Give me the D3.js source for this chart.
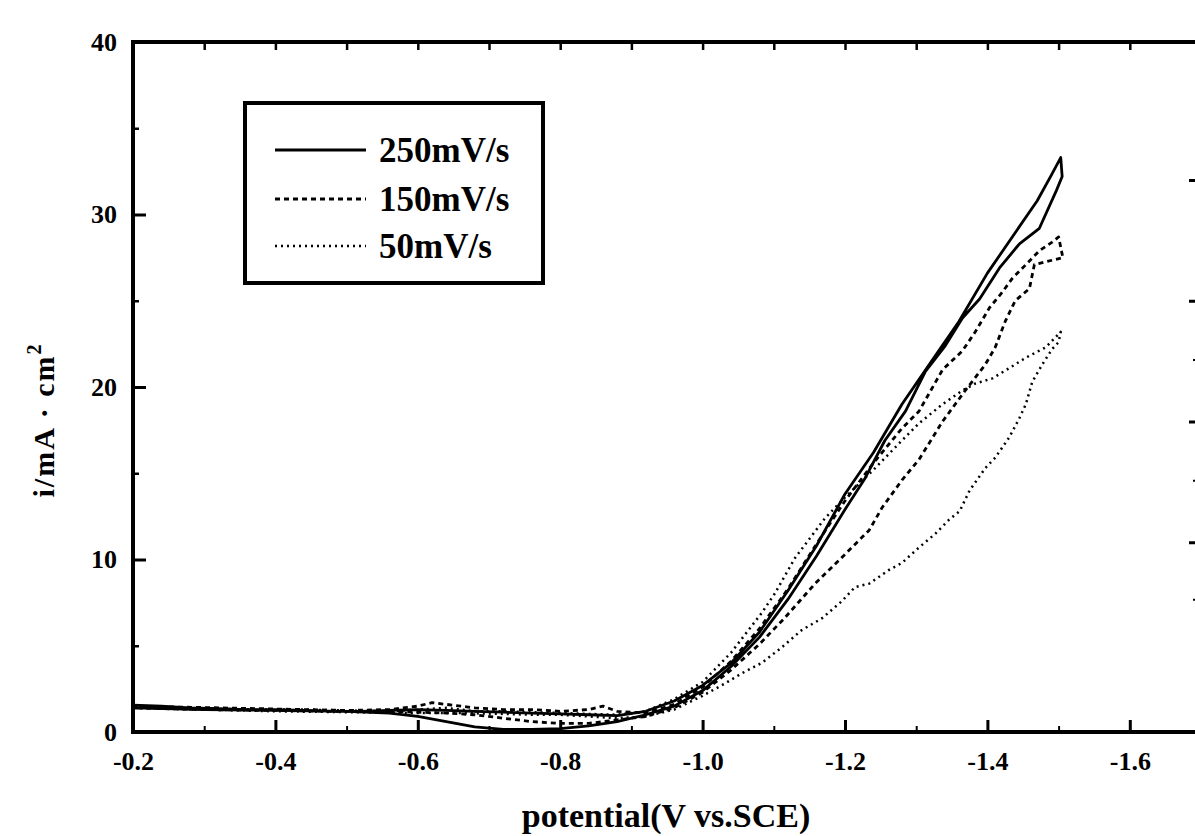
<!DOCTYPE html>
<html>
<head>
<meta charset="utf-8">
<script src="https://cdn.jsdelivr.net/npm/d3@7"></script>
<style>
  html, body { margin: 0; padding: 0; background: #fff; overflow: hidden; }
  svg { display: block; }
  text { font-family: "Liberation Serif", "Times New Roman", serif; font-weight: bold; fill: #000; }
</style>
</head>
<body>
<svg id="chart" width="1195" height="836"></svg>
<script>
// ---------- data (potential V vs SCE, current mA/cm2) ----------
const seriesNames = ["250mV/s", "150mV/s", "50mV/s"];

const scan250Forward = [[-0.20,1.55],[-0.24,1.5],[-0.28,1.4],[-0.32,1.35],[-0.36,1.3],[-0.40,1.3],[-0.44,1.25],[-0.48,1.2],[-0.52,1.2],[-0.56,1.25],[-0.60,1.3],[-0.64,1.25],[-0.68,1.2],[-0.72,1.15],[-0.76,1.1],[-0.80,1.05],[-0.84,1.0],[-0.88,0.95],[-0.92,1.2],[-0.96,1.8],[-1.00,2.7],[-1.04,4.0],[-1.08,5.8],[-1.12,8.2],[-1.16,10.8],[-1.20,13.8],[-1.24,16.2],[-1.28,19.0],[-1.32,21.4],[-1.36,23.8],[-1.40,26.6],[-1.44,29.0],[-1.47,30.8],[-1.49,32.3],[-1.503,33.3]];
const scan250Reverse = [[-1.505,32.2],[-1.497,31.4],[-1.473,29.2],[-1.445,28.3],[-1.417,26.9],[-1.389,25.1],[-1.365,24.0],[-1.341,22.4],[-1.313,20.9],[-1.285,18.6],[-1.256,16.9],[-1.228,14.7],[-1.20,12.9],[-1.16,10.2],[-1.12,7.7],[-1.08,5.5],[-1.04,3.8],[-1.00,2.4],[-0.96,1.5],[-0.92,1.0],[-0.88,0.6],[-0.84,0.35],[-0.80,0.2],[-0.76,0.15],[-0.72,0.15],[-0.68,0.3],[-0.64,0.6],[-0.60,0.9],[-0.56,1.1],[-0.50,1.2],[-0.40,1.25],[-0.30,1.3],[-0.20,1.4]];

const scan150Forward = [[-0.20,1.5],[-0.26,1.45],[-0.32,1.4],[-0.38,1.35],[-0.44,1.3],[-0.50,1.25],[-0.56,1.3],[-0.60,1.5],[-0.62,1.7],[-0.64,1.6],[-0.68,1.4],[-0.72,1.3],[-0.76,1.3],[-0.80,1.2],[-0.84,1.3],[-0.86,1.5],[-0.88,1.2],[-0.92,1.1],[-0.96,1.6],[-1.00,2.6],[-1.04,4.1],[-1.08,6.0],[-1.12,8.3],[-1.16,10.9],[-1.20,13.4],[-1.24,15.6],[-1.28,17.6],[-1.304,18.6],[-1.337,21.0],[-1.365,22.1],[-1.383,23.2],[-1.403,24.6],[-1.421,25.5],[-1.435,26.3],[-1.459,27.3],[-1.473,27.9],[-1.491,28.4],[-1.50,28.7]];
const scan150Reverse = [[-1.506,27.5],[-1.466,27.1],[-1.459,25.7],[-1.439,25.0],[-1.425,23.8],[-1.411,22.3],[-1.397,21.3],[-1.369,19.8],[-1.337,18.0],[-1.304,15.8],[-1.280,14.6],[-1.252,13.0],[-1.234,11.7],[-1.200,10.3],[-1.158,8.6],[-1.115,6.6],[-1.08,5.1],[-1.04,3.6],[-1.00,2.3],[-0.96,1.4],[-0.92,0.9],[-0.88,0.7],[-0.84,0.5],[-0.80,0.5],[-0.76,0.6],[-0.72,0.8],[-0.68,1.0],[-0.64,1.1],[-0.56,1.2],[-0.48,1.2],[-0.40,1.25],[-0.30,1.3],[-0.20,1.4]];

const scan50Forward = [[-0.20,1.5],[-0.26,1.4],[-0.32,1.35],[-0.38,1.3],[-0.44,1.3],[-0.50,1.25],[-0.56,1.2],[-0.60,1.3],[-0.64,1.4],[-0.68,1.2],[-0.72,1.2],[-0.76,1.15],[-0.80,1.1],[-0.84,1.05],[-0.88,1.0],[-0.92,1.2],[-0.96,1.9],[-1.00,2.9],[-1.04,4.6],[-1.083,6.9],[-1.101,8.0],[-1.130,10.1],[-1.172,12.4],[-1.20,13.6],[-1.24,15.2],[-1.28,16.9],[-1.304,17.9],[-1.337,19.0],[-1.365,19.8],[-1.383,20.2],[-1.407,20.5],[-1.431,21.1],[-1.454,21.7],[-1.482,22.3],[-1.503,23.2]];
const scan50Reverse = [[-1.50,22.6],[-1.491,22.2],[-1.477,21.3],[-1.463,20.3],[-1.454,19.0],[-1.445,18.2],[-1.431,17.1],[-1.411,15.9],[-1.397,15.3],[-1.375,14.0],[-1.361,12.8],[-1.346,12.3],[-1.327,11.5],[-1.304,10.7],[-1.280,9.8],[-1.262,9.4],[-1.234,8.6],[-1.214,8.4],[-1.196,7.6],[-1.168,6.6],[-1.139,5.9],[-1.111,4.9],[-1.083,4.0],[-1.055,3.4],[-1.031,2.8],[-1.00,2.1],[-0.96,1.3],[-0.92,0.9],[-0.88,0.8],[-0.84,0.9],[-0.80,1.0],[-0.76,1.0],[-0.72,1.05],[-0.66,1.1],[-0.60,1.1],[-0.50,1.15],[-0.40,1.2],[-0.30,1.3],[-0.20,1.4]];

const xTickValues = [-0.2, -0.4, -0.6, -0.8, -1.0, -1.2, -1.4, -1.6];
const xTickLabels = ["-0.2", "-0.4", "-0.6", "-0.8", "-1.0", "-1.2", "-1.4", "-1.6"];
const xMinorTicks = [-0.3, -0.5, -0.7, -0.9, -1.1, -1.3, -1.5];
const yTickValues = [0, 10, 20, 30, 40];
const yTickLabels = ["0", "10", "20", "30", "40"];
const yMinorTicks = [5, 15, 25, 35];
const rightMajorTicks = [32, 25, 18, 11];
const rightMinorTicks = [21.6, 14.6, 7.7];

const xLabel = "potential(V vs.SCE)";
const yLabel = "i/mA · cm";
const yLabelSup = "2";

// ---------- layout ----------
const svg = d3.select("#chart");
const pLeft = 133, pRight = 1201, pTop = 42, pBottom = 732;

const x = d3.scaleLinear().domain([-0.2, -1.7]).range([pLeft, pRight]);
const y = d3.scaleLinear().domain([0, 40]).range([pBottom, pTop]);

const line = d3.line().x(d => x(d[0])).y(d => y(d[1]));

const series = [
  { name: seriesNames[0], data: scan250Forward.concat(scan250Reverse), dash: null, width: 2.8 },
  { name: seriesNames[1], data: scan150Forward.concat(scan150Reverse), dash: "5,4", width: 2.8 },
  { name: seriesNames[2], data: scan50Forward.concat(scan50Reverse), dash: "2,4", width: 2.5 }
];

// curves
svg.append("g").selectAll("path").data(series).join("path")
  .attr("d", d => line(d.data))
  .attr("fill", "none")
  .attr("stroke", "#000")
  .attr("stroke-width", d => d.width)
  .attr("stroke-dasharray", d => d.dash)
  .attr("stroke-linejoin", "round");

// axes (ticks inward)
const axisStroke = 4;
const tickFont = 26;
const bottomAxis = d3.axisBottom(x).tickValues(xTickValues).tickSize(-12).tickPadding(20)
  .tickFormat((d, i) => xTickLabels[i]);
const gB = svg.append("g").attr("transform", `translate(0,${pBottom})`).call(bottomAxis);
gB.attr("font-size", tickFont).attr("font-family", null);
gB.select(".domain").remove();
gB.selectAll(".tick line").attr("stroke-width", 3);
gB.selectAll(".tick text").style("font-size", tickFont + "px");

const bottomMinor = d3.axisBottom(x).tickValues(xMinorTicks).tickSize(-6).tickFormat("");
const gBm = svg.append("g").attr("transform", `translate(0,${pBottom})`).call(bottomMinor);
gBm.select(".domain").remove();
gBm.selectAll(".tick line").attr("stroke-width", 2);

const topAxis = d3.axisTop(x).tickValues(xTickValues.concat(xMinorTicks)).tickSize(-8).tickFormat("");
const gT = svg.append("g").attr("transform", `translate(0,${pTop})`).call(topAxis);
gT.select(".domain").remove();
gT.selectAll(".tick line").attr("stroke-width", 2.5);

const leftAxis = d3.axisLeft(y).tickValues(yTickValues).tickSize(-13).tickPadding(16)
  .tickFormat((d, i) => yTickLabels[i]);
const gL = svg.append("g").attr("transform", `translate(${pLeft},0)`).call(leftAxis);
gL.attr("font-size", tickFont).attr("font-family", null);
gL.select(".domain").remove();
gL.selectAll(".tick line").attr("stroke-width", 3);
gL.selectAll(".tick text").style("font-size", tickFont + "px");

const leftMinor = d3.axisLeft(y).tickValues(yMinorTicks).tickSize(-6).tickFormat("");
const gLm = svg.append("g").attr("transform", `translate(${pLeft},0)`).call(leftMinor);
gLm.select(".domain").remove();
gLm.selectAll(".tick line").attr("stroke-width", 2.5);

const rightAxis = d3.axisRight(y).tickValues(rightMajorTicks).tickSize(-12).tickFormat("");
const gR = svg.append("g").attr("transform", `translate(${pRight},0)`).call(rightAxis);
gR.select(".domain").remove();
gR.selectAll(".tick line").attr("stroke-width", 3);
const rightMinor = d3.axisRight(y).tickValues(rightMinorTicks).tickSize(-8).tickFormat("");
const gRm = svg.append("g").attr("transform", `translate(${pRight},0)`).call(rightMinor);
gRm.select(".domain").remove();
gRm.selectAll(".tick line").attr("stroke-width", 2);

// frame: left, top, bottom (right side falls outside the picture)
const frame = svg.append("path")
  .attr("d", `M${pRight},${pTop}H${pLeft}V${pBottom}H${pRight}`)
  .attr("fill", "none").attr("stroke", "#000").attr("stroke-width", axisStroke)
  .attr("stroke-linejoin", "miter");

// axis titles
svg.append("text")
  .attr("x", 666).attr("y", 827)
  .attr("text-anchor", "middle")
  .attr("font-size", 34)
  .text(xLabel);

const yt = svg.append("text")
  .attr("transform", "translate(54,420) rotate(-90)")
  .attr("text-anchor", "middle")
  .attr("font-size", 30)
  .attr("letter-spacing", 2);
yt.append("tspan").text(yLabel);
yt.append("tspan").attr("dy", -13).attr("font-size", 20).text(yLabelSup);

// legend
const lg = svg.append("g");
lg.append("rect")
  .attr("x", 245).attr("y", 103).attr("width", 298).attr("height", 180)
  .attr("fill", "#fff").attr("stroke", "#000").attr("stroke-width", 4);
const rowY = [150, 199, 246];
const rows = lg.selectAll("g.row").data(series).join("g").attr("class", "row")
  .attr("transform", (d, i) => `translate(0,${rowY[i]})`);
rows.append("line")
  .attr("x1", 275).attr("x2", 366).attr("y1", 0).attr("y2", 0)
  .attr("stroke", "#000").attr("stroke-width", d => d.width)
  .attr("stroke-dasharray", d => d.dash);
rows.append("text")
  .attr("x", 379).attr("y", 12)
  .attr("font-size", 35)
  .text(d => d.name);
</script>
</body>
</html>
